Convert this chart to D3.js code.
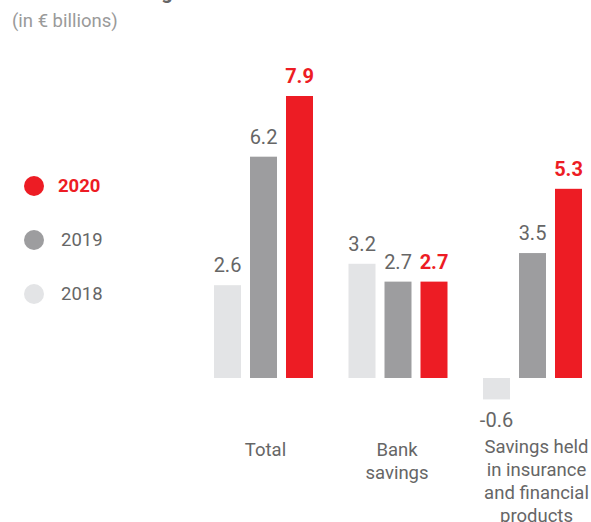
<html>
<head>
<style>
body {
  margin: 0;
  background: white;
  font-family: Roboto, "Noto Sans", sans-serif;
}
svg {
  display: block;
}
</style>
</head>
<body>
<script src="https://cdnjs.cloudflare.com/ajax/libs/d3/7.8.5/d3.min.js"></script>
<script>
var categories = ["Total", "Bank savings", "Savings held in insurance and financial products"]
var categoryLines = [["Total"], ["Bank", "savings"], ["Savings held", "in insurance", "and financial", "products"]]
var years = ["2018", "2019", "2020"]
var values2018 = [2.6, 3.2, -0.6]
var values2019 = [6.2, 2.7, 3.5]
var values2020 = [7.9, 2.7, 5.3]
var legendOrder = ["2020", "2019", "2018"]

var colors = { "2018": "#e3e4e6", "2019": "#9d9d9f", "2020": "#ed1c24" }
var series = { "2018": values2018, "2019": values2019, "2020": values2020 }

var width = 591, height = 522

var svg = d3.select("body").append("svg")
  .attr("width", width)
  .attr("height", height)

// title is cut off at the top of the picture, only the descender shows
svg.append("text")
  .attr("x", 12)
  .attr("y", -1)
  .attr("font-size", 20)
  .attr("font-weight", "bold")
  .attr("fill", "#666")
  .text("Household savings")

svg.append("text")
  .attr("x", 12)
  .attr("y", 27)
  .attr("font-size", 18.5)
  .attr("fill", "#9a9a9a")
  .text("(in € billions)")

var y = d3.scaleLinear().domain([0, 7.9]).range([378, 96])

var x0 = d3.scalePoint().domain(categories).range([263.5, 532.5])
var x1 = d3.scaleBand().domain(years).range([-54, 54]).paddingInner(0.25).paddingOuter(0.125)

var groups = svg.selectAll("g.cat")
  .data(categories)
  .enter().append("g")
  .attr("class", "cat")
  .attr("transform", function(d) { return "translate(" + x0(d) + ",0)" })

years.forEach(function(yr) {
  groups.append("rect")
    .attr("x", x1(yr))
    .attr("width", x1.bandwidth())
    .attr("y", function(d, i) { return y(Math.max(0, series[yr][i])) })
    .attr("height", function(d, i) { return Math.abs(y(series[yr][i]) - y(0)) })
    .attr("fill", colors[yr])

  groups.append("text")
    .attr("x", x1(yr) + x1.bandwidth() / 2)
    .attr("y", function(d, i) {
      var v = series[yr][i]
      return v >= 0 ? y(v) - 13 : y(v) + 28
    })
    .attr("text-anchor", "middle")
    .attr("font-size", 20)
    .attr("font-weight", yr === "2020" ? "bold" : "normal")
    .attr("fill", yr === "2020" ? colors["2020"] : "#666")
    .text(function(d, i) { return series[yr][i].toFixed(1) })
})

groups.each(function(d, i) {
  var t = d3.select(this).append("text")
    .attr("text-anchor", "middle")
    .attr("font-size", 18.5)
    .attr("fill", "#666")
  categoryLines[i].forEach(function(line, j) {
    t.append("tspan")
      .attr("x", i === 0 ? 2 : (i === 1 ? -1 : 4))
      .attr("y", 456 + j * 23 - (i === 2 ? 3 : 0))
      .text(line)
  })
})

var legend = svg.selectAll("g.legend")
  .data(legendOrder)
  .enter().append("g")
  .attr("class", "legend")
  .attr("transform", function(d, i) { return "translate(34," + (186 + i * 54) + ")" })

legend.append("circle")
  .attr("r", 10)
  .attr("fill", function(d) { return colors[d] })

legend.append("text")
  .attr("x", function(d) { return d === "2020" ? 24 : 27 })
  .attr("y", 6)
  .attr("font-size", 18.5)
  .attr("font-weight", function(d) { return d === "2020" ? "bold" : "normal" })
  .attr("fill", function(d) { return d === "2020" ? colors["2020"] : "#666" })
  .text(function(d) { return d })
</script>
</body>
</html>
